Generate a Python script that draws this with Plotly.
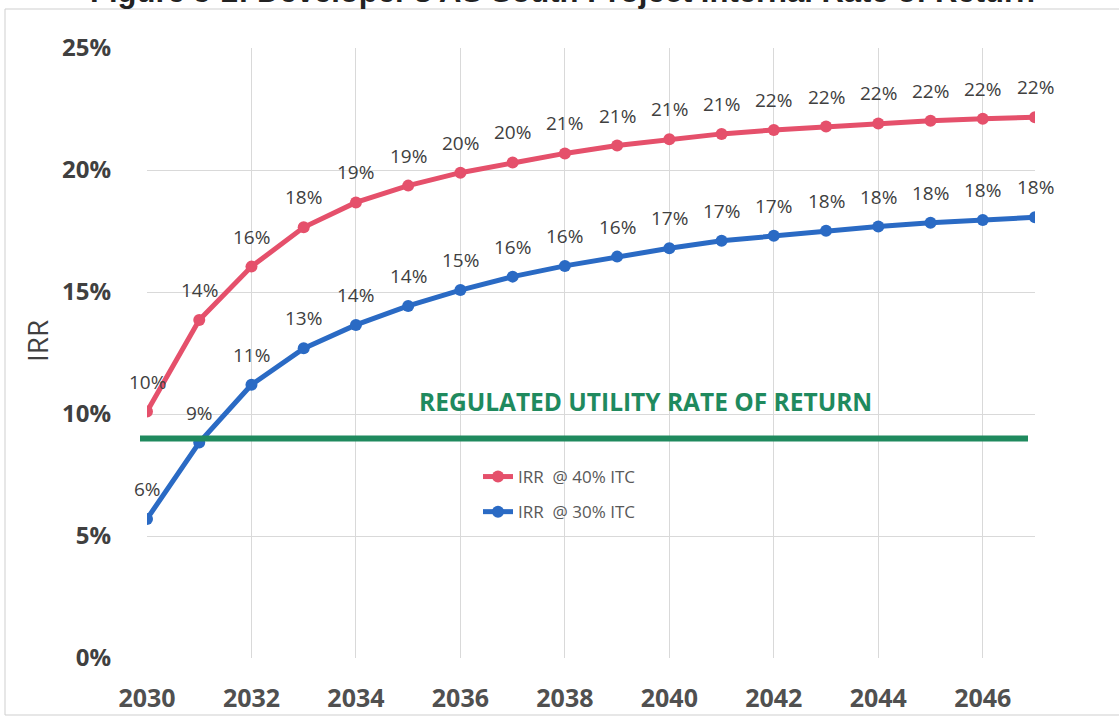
import plotly.graph_objects as go

years = list(range(2030, 2048))
irr_40 = [10.1, 13.85, 16.04, 17.65, 18.67, 19.36, 19.89, 20.31, 20.68, 21.0,
          21.26, 21.48, 21.64, 21.78, 21.91, 22.02, 22.1, 22.16]
irr_30 = [5.7, 8.83, 11.2, 12.69, 13.65, 14.43, 15.08, 15.63, 16.07, 16.45,
          16.79, 17.1, 17.31, 17.51, 17.68, 17.84, 17.95, 18.06]
labels_40 = ["10%", "14%", "16%", "18%", "19%", "19%", "20%", "20%", "21%", "21%",
             "21%", "21%", "22%", "22%", "22%", "22%", "22%", "22%"]
labels_30 = ["6%", "9%", "11%", "13%", "14%", "14%", "15%", "16%", "16%", "16%",
             "17%", "17%", "17%", "18%", "18%", "18%", "18%", "18%"]
reg_rate = 9.0
reg_label = "REGULATED UTILITY RATE OF RETURN"
x_ticks = list(range(2030, 2047, 2))
y_ticks = [0, 5, 10, 15, 20, 25]
y_ticktext = ["0%", "5%", "10%", "15%", "20%", "25%"]
series_names = ["IRR\u00a0 @ 40% ITC", "IRR\u00a0 @ 30% ITC"]
title_text = "Figure 5-2: Developer's AS South Project Internal Rate of Return"

RED = "#E5506B"
BLUE = "#2A6AC4"
GREEN = "#1F8A5E"
LABEL_FONT = "Open Sans"

W, H = 1119, 717
L, R, T, B = 147, 84, 48, 59
PW = W - L - R
PH = H - T - B

fig = go.Figure()

fig.add_trace(go.Scatter(
    x=years, y=irr_40, mode="lines+markers", name=series_names[0],
    line=dict(color=RED, width=5), marker=dict(size=12, color=RED),
    legendgroup="a",
))
fig.add_trace(go.Scatter(
    x=years, y=irr_30, mode="lines+markers", name=series_names[1],
    line=dict(color=BLUE, width=5), marker=dict(size=12, color=BLUE),
    legendgroup="b",
))

annotations = []
for xs, ys, ls in ((years, irr_40, labels_40), (years, irr_30, labels_30)):
    for xv, yv, lab in zip(xs, ys, ls):
        annotations.append(dict(
            x=xv, y=yv, xref="x", yref="y", text=lab, showarrow=False,
            yshift=30, font=dict(family=LABEL_FONT, size=19, color="#404040"),
        ))

annotations.append(dict(
    x=(645 - L) / PW, xref="paper", y=10.5, yref="y", text="<b>" + reg_label + "</b>",
    showarrow=False, xanchor="center",
    font=dict(family=LABEL_FONT, size=24.5, color=GREEN),
))
annotations.append(dict(
    x=(37 - L) / PW, xref="paper", y=0.5, yref="paper", yshift=(365 - 353),
    xanchor="center", text="IRR", textangle=-90, showarrow=False,
    font=dict(family=LABEL_FONT, size=28, color="#404040"),
))
annotations.append(dict(
    x=(562 - L) / PW, xref="paper", y=1, yref="paper", yanchor="bottom", xanchor="center",
    yshift=37, text="<b>" + title_text + "</b>", showarrow=False,
    font=dict(family="Liberation Sans", size=31, color="#222222"),
))

shapes = [
    dict(type="line", xref="paper", yref="y", x0=(140 - L) / PW, x1=(1028 - L) / PW,
         y0=reg_rate, y1=reg_rate, line=dict(color=GREEN, width=6), layer="above"),
    dict(type="rect", xref="paper", yref="paper",
         x0=(5 - L) / PW, x1=(1130 - L) / PW, y0=-(715 - (H - B)) / PH, y1=(H - B - 9) / PH,
         line=dict(color="#CFCFCF", width=1), fillcolor="rgba(0,0,0,0)", layer="below"),
]

fig.update_layout(
    width=W, height=H, autosize=False,
    margin=dict(l=L, r=R, t=T, b=B, autoexpand=False),
    paper_bgcolor="white", plot_bgcolor="white",
    showlegend=True,
    legend=dict(
        x=(478 - L) / PW, y=(H - B - 459) / PH, xanchor="left", yanchor="top",
        bgcolor="rgba(0,0,0,0)", font=dict(family=LABEL_FONT, size=17, color="#595959"),
        tracegroupgap=10, traceorder="grouped",
    ),
    annotations=annotations,
    shapes=shapes,
    xaxis=dict(
        range=[2030, 2047], tickmode="array", tickvals=x_ticks,
        ticktext=[str(v) for v in x_ticks], automargin=False,
        showgrid=True, gridcolor="#D9D9D9", gridwidth=1, zeroline=False, showline=False,
        ticks="outside", ticklen=18, tickcolor="rgba(0,0,0,0)",
        tickfont=dict(family=LABEL_FONT, size=25, color="#505050", weight="bold"),
    ),
    yaxis=dict(
        range=[0, 25], tickmode="array", tickvals=y_ticks, ticktext=y_ticktext,
        automargin=False,
        showgrid=True, gridcolor="#D9D9D9", gridwidth=1, zeroline=False, showline=False,
        ticks="outside", ticklen=30, tickcolor="rgba(0,0,0,0)",
        tickfont=dict(family=LABEL_FONT, size=24, color="#404040", weight="bold"),
    ),
)

fig.write_html(
    "out.html",
    config={"displayModeBar": False},
    post_script="document.body.style.margin='0';document.body.style.overflow='hidden';",
)
